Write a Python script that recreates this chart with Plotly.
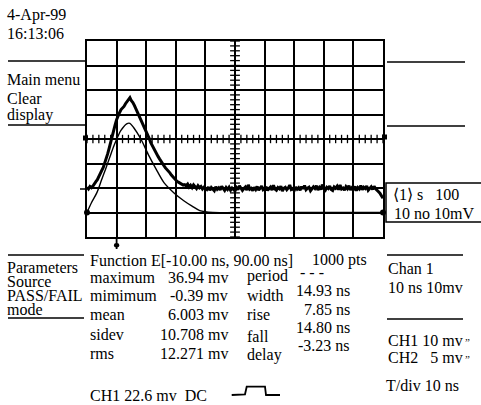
import numpy as np
import plotly.graph_objects as go

# ---------------- data ----------------
# CH1 (thick, noisy) : time in ns, amplitude in mV (10 mV/div)
ch1_t_pulse = [-10.0, -9.5, -9.0, -8.5, -8.0, -7.5, -7.0, -6.5, -6.0, -5.5, -5.0, -4.5, -4.0, -3.5,
               -3.0, -2.5, -2.0, -1.5, -1.0, -0.5, 0.0, 0.5, 1.0, 1.5, 2.0, 2.5, 3.0, 3.5, 4.0, 4.5,
               5.0, 5.5, 6.0, 6.5, 7.0, 7.5, 8.0, 8.5, 9.0, 9.5, 10.0, 10.5, 11.0, 11.5, 12.0, 12.5,
               13.0, 13.5, 14.0, 14.5, 15.0, 15.5, 16.0, 16.5, 17.0, 17.5, 18.0, 18.5, 19.0, 19.5,
               20.0, 20.5, 21.0, 21.5, 22.0, 22.5, 23.0]
ch1_v_pulse = [0.3, -0.4, 0.6, 0.1, 0.8, 1.5, 2.6, 3.4, 4.9, 5.6, 7.2, 8.4, 10.1, 11.8,
               14.0, 16.3, 18.9, 21.4, 23.6, 25.8, 27.9, 29.6, 30.8, 32.0, 32.6, 33.3, 34.4, 35.1, 36.0, 36.9,
               35.6, 34.9, 33.7, 32.4, 30.9, 29.5, 28.3, 26.6, 25.6, 24.6, 23.4, 21.9, 20.3, 18.6, 17.4, 16.0,
               14.9, 13.8, 12.9, 11.9, 10.8, 9.9, 9.1, 8.2, 7.6, 6.8, 6.2, 5.3, 4.6, 4.0,
               3.2, 2.6, 2.3, 1.8, 1.6, 1.2, 1.4]
ch1_v_tail = [0.9, 1.6, 0.4, 1.1, 0.2, 1.3, 0.5, -0.2, 0.9, 0.1, 0.6, -0.4, 0.3, -0.1,
              -0.6, 0.4, -0.9, 0.2, -0.3, -1.1, 0.5, -0.5, 0.1, -0.8, 0.7, -0.4, -1.0, 0.2, -0.6, 0.3, -0.9, 0.0, -0.5, -1.2,
              0.1, -0.7, 0.9, -0.3, -1.0, -0.2, 0.4, -0.8, 1.3, -0.5, -0.1, -1.1, 0.3, -0.6, 0.6, -0.9, -0.2, 0.8, -0.7, -0.3,
              0.5, -1.0, -0.2, 0.4, -0.8, 1.1, -0.4, -0.9, 0.2, -0.3, 0.7, -1.2, -0.1, 0.3, -0.7, 0.0, 1.2, -0.6, -0.2, -1.0,
              0.4, -0.5, 0.1, -0.9, 0.6, -0.3, 1.0, -0.7, -0.1, 0.3, -1.1, -0.4, 0.5, -0.2, 0.9, -0.8, 0.2, -0.6, 1.4, -0.3,
              -0.9, 0.3, -0.2, 0.8, -0.6, -1.0, 0.4, -0.1, 0.7, -0.7, 1.2, -0.4, 0.0, -0.9, 0.5, -0.3, 0.9, -0.8, 0.1, -0.5,
              0.6, -1.1, 0.2, -0.4, 1.0, -0.7, 0.3, -0.2, 0.8, -0.9, -0.1, 0.5, -0.6, 0.7, -0.3, -0.8, -1.5, -2.2, -3.4, -4.2]
ch1_t_tail = [23.5 + 0.5 * i for i in range(len(ch1_v_tail))]

# CH2 (thin, smooth) : time in ns, amplitude in mV (5 mV/div)
ch2_t = [-10.0, -8.5, -6.7, -5.0, -3.7, -2.0, -0.9, 0.5, 1.4, 3.4, 4.5, 5.8, 8.2, 10.9,
         13.3, 16.0, 19.4, 22.7, 25.5, 28.1, 32.5, 40.0, 60.0, 90.0]
ch2_v = [0.0, 2.0, 4.0, 6.8, 8.9, 11.8, 13.6, 15.6, 16.7, 18.1, 18.2, 17.3, 15.0, 11.6,
         8.9, 6.1, 4.0, 2.4, 1.3, 0.4, 0.0, 0.0, 0.0, 0.0]

ch1_t = ch1_t_pulse + ch1_t_tail
ch1_v = ch1_v_pulse + ch1_v_tail

x_range = [-10, 90]      # 10 ns/div
y1_range = [-20, 60]     # CH1 10 mV/div
y2_range = [-5, 35]      # CH2 5 mV/div

# ---------------- figure ----------------
W, H = 481, 405
L, R, T, B = 87, 383, 41, 237
def pxx(x): return (x - L) / (R - L)
def pyy(y): return (B - y) / (B - T)

FONT = "Liberation Serif, Times New Roman, serif"
FS = 16

fig = go.Figure()

# graticule minor ticks along centre lines
xc = (x_range[0] + x_range[1]) / 2
yc = (y1_range[0] + y1_range[1]) / 2
fig.add_trace(go.Scatter(x=np.arange(x_range[0], x_range[1] + 0.01, 2.0), y=[yc] * 51,
                         mode="markers", marker=dict(symbol="line-ns", size=6,
                         line=dict(color="black", width=1.3)), hoverinfo="skip"))
fig.add_trace(go.Scatter(x=[xc] * 41, y=np.arange(y1_range[0], y1_range[1] + 0.01, 2.0),
                         mode="markers", marker=dict(symbol="line-ew", size=7,
                         line=dict(color="black", width=1.3)), hoverinfo="skip"))

fig.add_trace(go.Scatter(x=ch2_t, y=ch2_v, yaxis="y2", mode="lines",
                         line=dict(color="black", width=1.4, shape="spline", smoothing=0.8)))
fig.add_trace(go.Scatter(x=[ch2_t[0], ch2_t[-1]], y=[ch2_v[0], ch2_v[-1]], yaxis="y2", mode="markers",
                         marker=dict(color="black", size=6), cliponaxis=False))
fig.add_trace(go.Scatter(x=ch1_t, y=ch1_v, mode="lines",
                         line=dict(color="black", width=3)))

fig.update_layout(
    width=W, height=H, showlegend=False,
    margin=dict(l=L, r=W - R, t=T, b=H - B),
    paper_bgcolor="white", plot_bgcolor="white",
    font=dict(family=FONT, size=FS, color="black"),
    xaxis=dict(range=x_range, dtick=10, showgrid=True, gridcolor="black", gridwidth=1.5,
               zeroline=False, showticklabels=False, ticks="",
               showline=True, linecolor="black", linewidth=2, mirror=True),
    yaxis=dict(range=y1_range, dtick=10, showgrid=True, gridcolor="black", gridwidth=1.5,
               zeroline=False, showticklabels=False, ticks="",
               showline=True, linecolor="black", linewidth=2, mirror=True),
    yaxis2=dict(range=y2_range, overlaying="y", showgrid=False, zeroline=False,
                showticklabels=False, ticks="", visible=False),
)

shapes = []
def hline(y, x0, x1, w=1.5):
    shapes.append(dict(type="line", xref="paper", yref="paper", x0=pxx(x0), x1=pxx(x1),
                       y0=pyy(y), y1=pyy(y), line=dict(color="black", width=w)))

# menu separator lines
hline(61, 8, 85); hline(125, 8, 85); hline(189, 80, 85)
hline(62, 387, 465); hline(126, 387, 465)
hline(255, 8, 84); hline(318, 8, 84)
hline(255, 387, 463); hline(319, 387, 463)

# centre-line markers on the frame edges
for cx, cy in [(85.5, 138), (384.5, 137)]:
    shapes.append(dict(type="rect", xref="paper", yref="paper", x0=pxx(cx - 2.5), x1=pxx(cx + 2.5),
                       y0=pyy(cy + 2.5), y1=pyy(cy - 2.5), fillcolor="black", line=dict(width=0)))

# trigger marker (at t = 0)
shapes.append(dict(type="line", xref="x", yref="paper", x0=0, x1=0, y0=pyy(237), y1=pyy(249),
                   line=dict(color="black", width=1.8)))
shapes.append(dict(type="circle", xref="x", yref="paper", x0=-0.9, x1=0.9, y0=pyy(247.5), y1=pyy(243),
                   fillcolor="black", line=dict(width=0)))

# boxed readout on the right
shapes.append(dict(type="rect", xref="paper", yref="paper", x0=pxx(386), x1=pxx(483),
                   y0=pyy(222), y1=pyy(183), line=dict(color="black", width=1.5)))

# pulse symbol
pts = [(231.7, 395), (245, 394.3), (246.7, 386.7), (265, 386.7), (266, 395), (280, 395)]
path = "M " + " L ".join(f"{pxx(a)},{pyy(b)}" for a, b in pts)
shapes.append(dict(type="path", xref="paper", yref="paper", path=path,
                   line=dict(color="black", width=1.8)))

fig.update_layout(shapes=shapes)

NB = "\u00a0"
def txt(x, y, s, anchor="left", size=FS):
    fig.add_annotation(xref="paper", yref="paper", x=pxx(x), y=pyy(y), text=s,
                       showarrow=False, xanchor=anchor, yanchor="middle",
                       font=dict(family=FONT, size=size, color="black"), borderpad=0)

txt(6, 15, "4-Apr-99")
txt(6, 34, "16:13:06")
txt(6, 79, "Main menu")
txt(6, 98, "Clear")
txt(6, 115, "display")
txt(6, 267, "Parameters")
txt(6, 281, "Source")
txt(6, 295, "PASS/FAIL")
txt(6, 309, "mode")

txt(89, 260, "Function E[-10.00 ns, 90.00 ns]")
txt(311, 260, "1000 pts")

labels1 = ["maximum", "mimimum", "mean", "sidev", "rms"]
values1 = ["36.94 mv", "-0.39 mv", "6.003 mv", "10.708 mv", "12.271 mv"]
rows1 = [277, 295, 314, 334, 353]
for lab, val, yy in zip(labels1, values1, rows1):
    txt(89, yy, lab)
    txt(229, yy, val, anchor="right")

labels2 = ["period", "width", "rise", "fall", "delay"]
rows2 = [276, 295, 314, 336, 355]
for lab, yy in zip(labels2, rows2):
    txt(246, yy, lab)
txt(299, 272, "-" + NB + "-" + NB + "-")
values2 = ["14.93 ns", "7.85 ns", "14.80 ns", "-3.23 ns"]
rows2v = [290, 309, 327, 345]
for val, yy in zip(values2, rows2v):
    txt(351, yy, val, anchor="right")

txt(387, 268, "Chan 1")
txt(387, 287, "10 ns 10mv")
txt(387, 340, "CH1 10 mv")
txt(387, 357, "CH2" + NB * 3 + "5 mv")
txt(464, 342, "\u201d", size=11)
txt(464, 359, "\u201d", size=11)
txt(385, 385, "T/div 10 ns")
txt(89, 395, "CH1 22.6 mv" + NB * 2 + "DC")

txt(392, 194, "\u27e81\u27e9 s" + NB * 3 + "100")
txt(393, 213, "10 no 10mV")

fig.write_html("out.html", config={"displayModeBar": False},
               post_script="document.body.style.margin='0';document.body.style.padding='0';")
